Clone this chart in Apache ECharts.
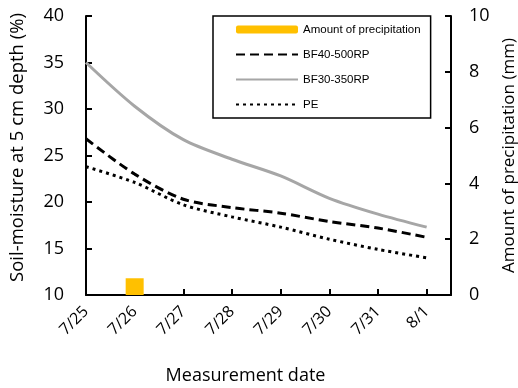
<!DOCTYPE html>
<html>
<head>
<meta charset="utf-8">
<script src="https://cdn.jsdelivr.net/npm/echarts@6/dist/echarts.min.js"></script>
<style>
html, body { margin: 0; padding: 0; background: #fff; }
#main { width: 518px; height: 388px; }
</style>
</head>
<body>
<div id="main"></div>
<script>
// measurement dates (x index 0..7)
var dates = ['7/25', '7/26', '7/27', '7/28', '7/29', '7/30', '7/31', '8/1'];
// soil moisture (%)
var bf40 = [26.8, 23.0, 20.3, 19.4, 18.8, 17.9, 17.2, 16.2];
var bf30 = [35.0, 30.3, 26.7, 24.6, 22.8, 20.4, 18.7, 17.3];
var pe = [23.8, 22.1, 19.7, 18.4, 17.3, 16.0, 14.9, 14.0];
// precipitation (mm), by date index
var rainDay = [1];
var rainMm = [0.6];

function toPairs(arr) {
    return arr.map(function (v, i) { return [i, v]; });
}

var chart = echarts.init(document.getElementById('main'));
var axisFont = 'Open Sans';
var noDot = { opacity: 0 };

chart.setOption({
    animation: false,
    textStyle: { fontFamily: axisFont },
    grid: { left: 86, right: 67, top: 16, bottom: 93, outerBoundsMode: 'none', containLabel: false },
    legend: {
        orient: 'vertical',
        left: 213,
        top: 16,
        itemWidth: 62,
        itemHeight: 8,
        itemGap: 10,
        padding: [6, 10, 6, 22],
        borderColor: '#000',
        borderWidth: 1.5,
        textStyle: { fontFamily: 'Liberation Sans', fontSize: 11.5, color: '#000', lineHeight: 15 },
        data: [
            { name: 'Amount of precipitation' },
            { name: 'BF40-500RP', itemStyle: noDot },
            { name: 'BF30-350RP', itemStyle: noDot },
            { name: 'PE', itemStyle: noDot }
        ]
    },
    xAxis: {
        type: 'value',
        min: 0,
        max: 7.5,
        interval: 1,
        name: 'Measurement date',
        nameLocation: 'middle',
        nameGap: 72,
        nameTextStyle: { fontSize: 18, color: '#000', padding: [0, 46, 0, 0] },
        splitLine: { show: false },
        axisLine: { lineStyle: { color: '#000', width: 2 } },
        axisTick: { inside: true, length: 6, lineStyle: { color: '#000', width: 2 } },
        axisLabel: {
            rotate: 45,
            margin: 14,
            fontSize: 16,
            color: '#000',
            formatter: function (v) {
                return Number.isInteger(v) && dates[v] ? dates[v] : '';
            }
        }
    },
    yAxis: [{
        type: 'value',
        min: 10,
        max: 40,
        interval: 5,
        name: 'Soil-moisture at 5 cm depth (%)',
        nameLocation: 'middle',
        nameGap: 59,
        nameTextStyle: { fontSize: 18.5, color: '#000', padding: [0, 0, 0, 16] },
        splitLine: { show: false },
        axisLine: { show: true, lineStyle: { color: '#000', width: 2 } },
        axisTick: { show: true, inside: true, length: 6, lineStyle: { color: '#000', width: 2 } },
        axisLabel: { fontSize: 18, color: '#000', margin: 22 }
    }, {
        type: 'value',
        min: 0,
        max: 10,
        interval: 2,
        name: 'Amount of precipitation (mm)',
        nameLocation: 'middle',
        nameGap: 47,
        nameRotate: 90,
        nameTextStyle: { fontSize: 17, color: '#000' },
        splitLine: { show: false },
        axisLine: { show: true, lineStyle: { color: '#000', width: 2 } },
        axisTick: { show: true, inside: true, length: 6, lineStyle: { color: '#000', width: 2 } },
        axisLabel: { fontSize: 18, color: '#000', margin: 18 }
    }],
    series: [{
        name: 'Amount of precipitation',
        type: 'bar',
        yAxisIndex: 1,
        barWidth: 18,
        itemStyle: { color: '#FFC000' },
        data: rainDay.map(function (d, i) { return [d, rainMm[i]]; })
    }, {
        name: 'BF40-500RP',
        type: 'line',
        symbol: 'none',
        smooth: 0.3,
        itemStyle: { color: '#000' },
        lineStyle: { color: '#000', width: 3, type: [9, 5] },
        data: toPairs(bf40)
    }, {
        name: 'BF30-350RP',
        type: 'line',
        symbol: 'none',
        smooth: 0.3,
        itemStyle: { color: '#A6A6A6' },
        lineStyle: { color: '#A6A6A6', width: 3 },
        data: toPairs(bf30)
    }, {
        name: 'PE',
        type: 'line',
        symbol: 'none',
        smooth: 0.3,
        itemStyle: { color: '#000' },
        lineStyle: { color: '#000', width: 3, type: [3, 4] },
        data: toPairs(pe)
    }]
});
</script>
</body>
</html>
